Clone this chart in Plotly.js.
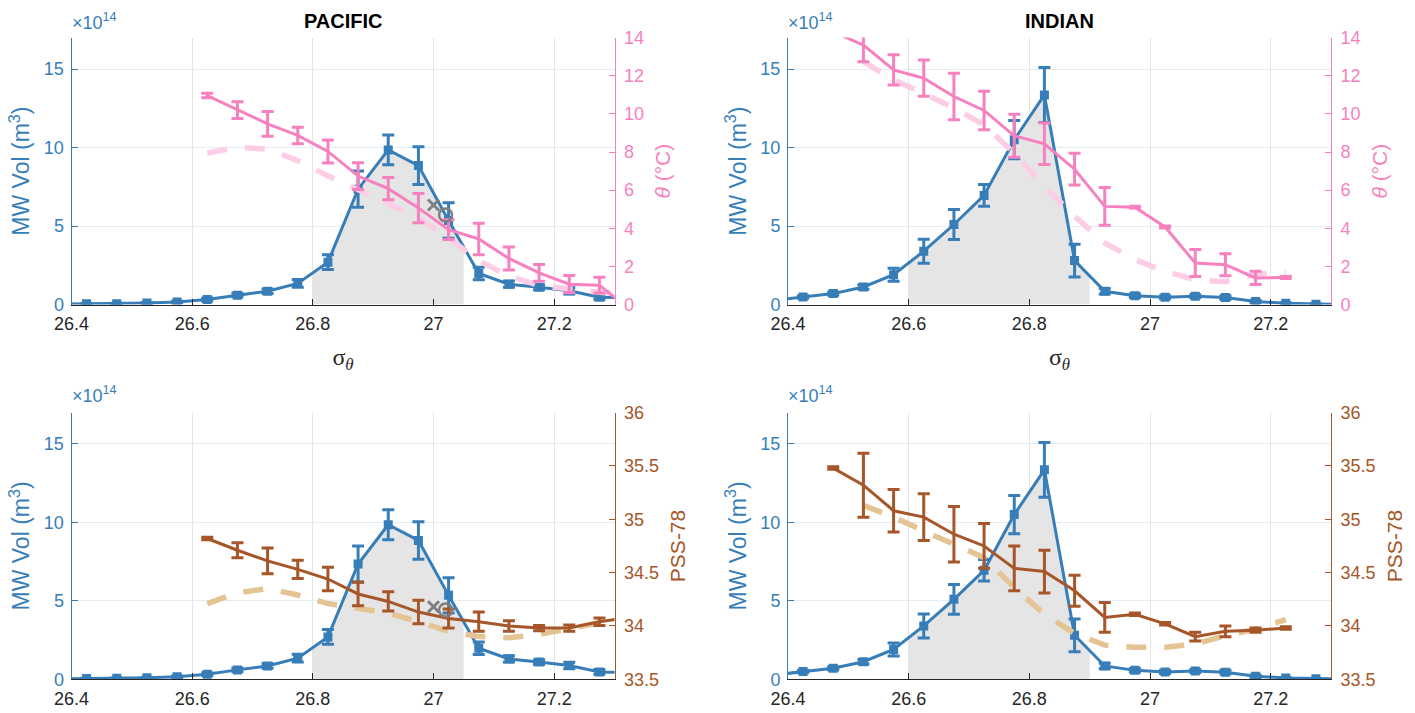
<!DOCTYPE html>
<html><head><meta charset="utf-8">
<script src="https://cdn.plot.ly/plotly-3.0.1.min.js"></script>
<style>html,body{margin:0;padding:0;background:#fff}#chart{width:1415px;height:713px}</style>
</head><body><div id="chart"></div>
<script>
// density bin centres (sigma_theta); first/last lie just outside the axis range
const sigma = [26.375, 26.425, 26.475, 26.525, 26.575, 26.625, 26.675, 26.725, 26.775, 26.825,
               26.875, 26.925, 26.975, 27.025, 27.075, 27.125, 27.175, 27.225, 27.275, 27.325];

// mode-water volume, units of 1e14 m^3
const pacVol    = [0.03, 0.05, 0.06, 0.10, 0.16, 0.32, 0.60, 0.85, 1.35, 2.70, 7.35, 9.85, 8.85, 5.35, 1.98, 1.30, 1.10, 0.88, 0.47, 0.43];
const pacVolErr = [0.01, 0.02, 0.02, 0.03, 0.05, 0.10, 0.12, 0.15, 0.25, 0.47, 1.15, 0.95, 1.20, 1.13, 0.40, 0.20, 0.15, 0.20, 0.15, 0.10];
const indVol    = [0.27, 0.49, 0.70, 1.12, 1.90, 3.40, 5.10, 6.95, 10.5, 13.35, 2.80, 0.85, 0.57, 0.47, 0.53, 0.45, 0.20, 0.08, 0.03, 0.01];
const indVolErr = [0.05, 0.08, 0.10, 0.15, 0.42, 0.76, 0.95, 0.69, 1.22, 1.75, 1.05, 0.18, 0.12, 0.10, 0.10, 0.12, 0.08, 0.04, 0.02, 0.01];

// potential temperature (deg C)
const pacTheta    = [null, null, null, null, null, 10.96, 10.2, 9.48, 8.87, 8.03, 6.74, 6.08, 5.06, 3.93, 3.44, 2.42, 1.66, 1.07, 1.02, -0.25];
const pacThetaErr = [0, 0, 0, 0, 0, 0.12, 0.44, 0.65, 0.43, 0.60, 0.70, 0.58, 0.77, 0.52, 0.82, 0.60, 0.44, 0.45, 0.41, 0];
const pacThetaRef = [null, null, null, null, null, 7.95, 8.25, 8.15, 7.55, 6.75, 6.05, 5.3, 4.55, 3.5, 2.3, 1.5, 1.0, 0.8, 0.65, 0.55];
const indTheta    = [null, null, 14.3, 13.61, 12.31, 11.87, 10.91, 10.18, 8.85, 8.43, 7.1, 5.15, 5.11, 4.07, 2.18, 2.09, 1.40, 1.42, null, null];
const indThetaErr = [0, 0, 0.1, 0.87, 0.79, 0.95, 1.22, 1.01, 1.13, 1.09, 0.83, 0.99, 0.05, 0.05, 0.71, 0.58, 0.35, 0.05, 0, 0];
const indThetaRef = [null, null, null, 12.74, 11.78, 11.08, 10.3, 9.43, 7.94, 6.2, 4.63, 3.23, 2.36, 1.75, 1.3, 1.2, 1.6, 1.7, null, null];

// salinity (PSS-78)
const pacSal    = [null, null, null, null, null, 34.82, 34.71, 34.61, 34.53, 34.44, 34.30, 34.23, 34.13, 34.07, 34.04, 34.00, 33.98, 33.98, 34.04, 34.08];
const pacSalErr = [0, 0, 0, 0, 0, 0.012, 0.07, 0.12, 0.085, 0.11, 0.11, 0.09, 0.11, 0.09, 0.09, 0.05, 0.025, 0.03, 0.035, 0];
const pacSalRef = [null, null, null, null, null, 34.21, 34.31, 34.35, 34.29, 34.21, 34.17, 34.12, 34.04, 33.95, 33.90, 33.89, 33.92, 33.97, 34.03, 34.10];
const indSal    = [null, null, 35.48, 35.32, 35.08, 35.02, 34.86, 34.75, 34.54, 34.51, 34.33, 34.08, 34.11, 34.02, 33.90, 33.95, 33.96, 33.98, null, null];
const indSalErr = [0, 0, 0.012, 0.30, 0.20, 0.22, 0.26, 0.21, 0.21, 0.20, 0.145, 0.14, 0.012, 0.012, 0.04, 0.05, 0.02, 0.012, 0, 0];
const indSalRef = [null, null, null, 35.13, 35.02, 34.89, 34.77, 34.64, 34.36, 34.11, 33.93, 33.82, 33.80, 33.80, 33.83, 33.91, 33.97, 34.06, null, null];

// mode-water density range (shaded) and mean MW properties (gray x / o)
const pacMwRange = [26.8, 27.05];
const indMwRange = [26.6, 26.9];
const pacMeanSigma = [27.0, 27.02];
const pacMeanTheta = [5.22, 4.70];
const pacMeanSal   = [34.18, 34.15];

const xTicks = [26.4, 26.6, 26.8, 27, 27.2];
const xTickText = ['26.4', '26.6', '26.8', '27', '27.2'];
const volTicks = [0, 5, 10, 15];
const thetaTicks = [0, 2, 4, 6, 8, 10, 12, 14];
const salTicks = [33.5, 34, 34.5, 35, 35.5, 36];
const salTickText = ['33.5', '34', '34.5', '35', '35.5', '36'];

const BLUE = '#377eb8', PINK = '#f781bf', PINK_L = '#fccde5', BROWN = '#a65628', TAN = '#e5c494', GRAY = '#7f7f7f', DARK = '#262626';
const FONT = 'Liberation Sans, Arial, Helvetica, sans-serif';

function interp(x, xs, ys) {
  for (let i = 0; i < xs.length - 1; i++) {
    if (x >= xs[i] && x <= xs[i + 1]) {
      const t = (x - xs[i]) / (xs[i + 1] - xs[i]);
      return ys[i] + t * (ys[i + 1] - ys[i]);
    }
  }
  return 0;
}
function shade(vol, rng, xa, ya) {
  const xs = [rng[0]], ys = [interp(rng[0], sigma, vol)];
  sigma.forEach((s, i) => { if (s > rng[0] && s < rng[1]) { xs.push(s); ys.push(vol[i]); } });
  xs.push(rng[1]); ys.push(interp(rng[1], sigma, vol));
  return {x: xs, y: ys, xaxis: xa, yaxis: ya, mode: 'none', fill: 'tozeroy', fillcolor: '#e5e5e5', hoverinfo: 'skip'};
}
function volTrace(vol, err, xa, ya) {
  return {x: sigma, y: vol, xaxis: xa, yaxis: ya, mode: 'lines+markers',
    line: {color: BLUE, width: 3}, marker: {symbol: 'square', size: 9, color: BLUE},
    error_y: {type: 'data', array: err, visible: true, color: BLUE, thickness: 3, width: 6}};
}
function refTrace(vals, color, xa, ya) {
  return {x: sigma, y: vals, xaxis: xa, yaxis: ya, mode: 'lines', line: {color: color, width: 5.5, dash: '20px,18px'}};
}
function propTrace(vals, err, color, xa, ya) {
  return {x: sigma, y: vals, xaxis: xa, yaxis: ya, mode: 'lines', line: {color: color, width: 3},
    error_y: {type: 'data', array: err, visible: true, color: color, thickness: 3, width: 6}};
}
function meanTraces(vals, xa, ya) {
  return [
    {x: [pacMeanSigma[0]], y: [vals[0]], xaxis: xa, yaxis: ya, mode: 'markers',
     marker: {symbol: 'x-thin-open', size: 11, color: GRAY, line: {color: GRAY, width: 3}}},
    {x: [pacMeanSigma[1]], y: [vals[1]], xaxis: xa, yaxis: ya, mode: 'markers',
     marker: {symbol: 'circle-open', size: 13, color: GRAY, line: {color: GRAY, width: 2.5}}}
  ];
}

const data = [
  shade(pacVol, pacMwRange, 'x', 'y'), volTrace(pacVol, pacVolErr, 'x', 'y'),
  refTrace(pacThetaRef, PINK_L, 'x', 'y2'), propTrace(pacTheta, pacThetaErr, PINK, 'x', 'y2'),
  ...meanTraces(pacMeanTheta, 'x', 'y2'),
  shade(indVol, indMwRange, 'x2', 'y3'), volTrace(indVol, indVolErr, 'x2', 'y3'),
  refTrace(indThetaRef, PINK_L, 'x2', 'y4'), propTrace(indTheta, indThetaErr, PINK, 'x2', 'y4'),
  shade(pacVol, pacMwRange, 'x3', 'y5'), volTrace(pacVol, pacVolErr, 'x3', 'y5'),
  refTrace(pacSalRef, TAN, 'x3', 'y6'), propTrace(pacSal, pacSalErr, BROWN, 'x3', 'y6'),
  ...meanTraces(pacMeanSal, 'x3', 'y6'),
  shade(indVol, indMwRange, 'x4', 'y7'), volTrace(indVol, indVolErr, 'x4', 'y7'),
  refTrace(indSalRef, TAN, 'x4', 'y8'), propTrace(indSal, indSalErr, BROWN, 'x4', 'y8')
];

const W = 1415, H = 713;
const xL = [71.5 / W, 614.5 / W], xR = [788 / W, 1331 / W];
const yT = [1 - 304.6 / H, 1 - 37.6 / H], yB = [1 - 679.3 / H, 1 - 412.6 / H];

function xax(dom, anchor, withTitle) {
  const a = {domain: dom, anchor: anchor, range: [26.4, 27.3], tickvals: xTicks, ticktext: xTickText,
    ticks: 'inside', ticklen: 6, tickcolor: DARK, showline: true, linecolor: DARK, linewidth: 1,
    showgrid: true, gridcolor: '#e4e4e4', gridwidth: 1, zeroline: false, ticklabelstandoff: 3,
    tickfont: {family: FONT, size: 18, color: DARK}};
  if (withTitle) a.title = {text: 'σ<sub><i>θ</i></sub>', font: {family: 'Liberation Serif, serif', size: 24, color: DARK}, standoff: 14};
  return a;
}
function yLeft(dom, anchor) {
  return {domain: dom, anchor: anchor, range: [0, 17], tickvals: volTicks, ticks: 'inside', ticklen: 6,
    tickcolor: BLUE, showline: true, linecolor: BLUE, linewidth: 1, showgrid: true, gridcolor: '#e2ecf5',
    zeroline: false, ticklabelstandoff: 3, tickfont: {family: FONT, size: 18, color: BLUE},
    title: {text: 'MW Vol (m<sup>3</sup>)', font: {family: FONT, size: 23, color: BLUE}, standoff: 7}};
}
function yRight(over, anchor, rng, ticks, text, color, title) {
  const a = {overlaying: over, anchor: anchor, side: 'right', range: rng, tickvals: ticks, ticks: 'inside', ticklen: 6,
    tickcolor: color, showline: true, linecolor: color, linewidth: 1, showgrid: false, zeroline: false,
    ticklabelstandoff: 5, tickfont: {family: FONT, size: 18, color: color},
    title: {text: title, font: {family: FONT, size: 21, color: color}, standoff: 12}};
  if (text) a.ticktext = text;
  return a;
}

const ann = (text, x, y, opts) => Object.assign({text: text, x: x, y: y, xref: 'paper', yref: 'paper', showarrow: false}, opts);
const layout = {
  width: W, height: H, margin: {l: 0, r: 0, t: 0, b: 0}, paper_bgcolor: '#fff', plot_bgcolor: '#fff',
  showlegend: false, hovermode: false, font: {family: FONT},
  xaxis: xax(xL, 'y', true), yaxis: yLeft(yT, 'x'),
  yaxis2: yRight('y', 'x', [0, 14], thetaTicks, null, PINK, '<i>θ</i> (°C)'),
  xaxis2: xax(xR, 'y3', true), yaxis3: yLeft(yT, 'x2'),
  yaxis4: yRight('y3', 'x2', [0, 14], thetaTicks, null, PINK, '<i>θ</i> (°C)'),
  xaxis3: xax(xL, 'y5', false), yaxis5: yLeft(yB, 'x3'),
  yaxis6: yRight('y5', 'x3', [33.5, 36], salTicks, salTickText, BROWN, 'PSS-78'),
  xaxis4: xax(xR, 'y7', false), yaxis7: yLeft(yB, 'x4'),
  yaxis8: yRight('y7', 'x4', [33.5, 36], salTicks, salTickText, BROWN, 'PSS-78'),
  annotations: [
    ann('<b>PACIFIC</b>', 343 / W, 1 - 21 / H, {xanchor: 'center', yanchor: 'middle', font: {family: FONT, size: 20, color: '#000'}}),
    ann('<b>INDIAN</b>', 1059.5 / W, 1 - 21 / H, {xanchor: 'center', yanchor: 'middle', font: {family: FONT, size: 20, color: '#000'}}),
    ann('×10<sup>14</sup>', 70 / W, 1 - 35 / H, {xanchor: 'left', yanchor: 'bottom', font: {family: FONT, size: 18, color: BLUE}}),
    ann('×10<sup>14</sup>', 786 / W, 1 - 35 / H, {xanchor: 'left', yanchor: 'bottom', font: {family: FONT, size: 18, color: BLUE}}),
    ann('×10<sup>14</sup>', 70 / W, 1 - 408 / H, {xanchor: 'left', yanchor: 'bottom', font: {family: FONT, size: 18, color: BLUE}}),
    ann('×10<sup>14</sup>', 786 / W, 1 - 408 / H, {xanchor: 'left', yanchor: 'bottom', font: {family: FONT, size: 18, color: BLUE}})
  ]
};

Plotly.newPlot('chart', data, layout, {staticPlot: true, displayModeBar: false});
</script>
</body></html>
